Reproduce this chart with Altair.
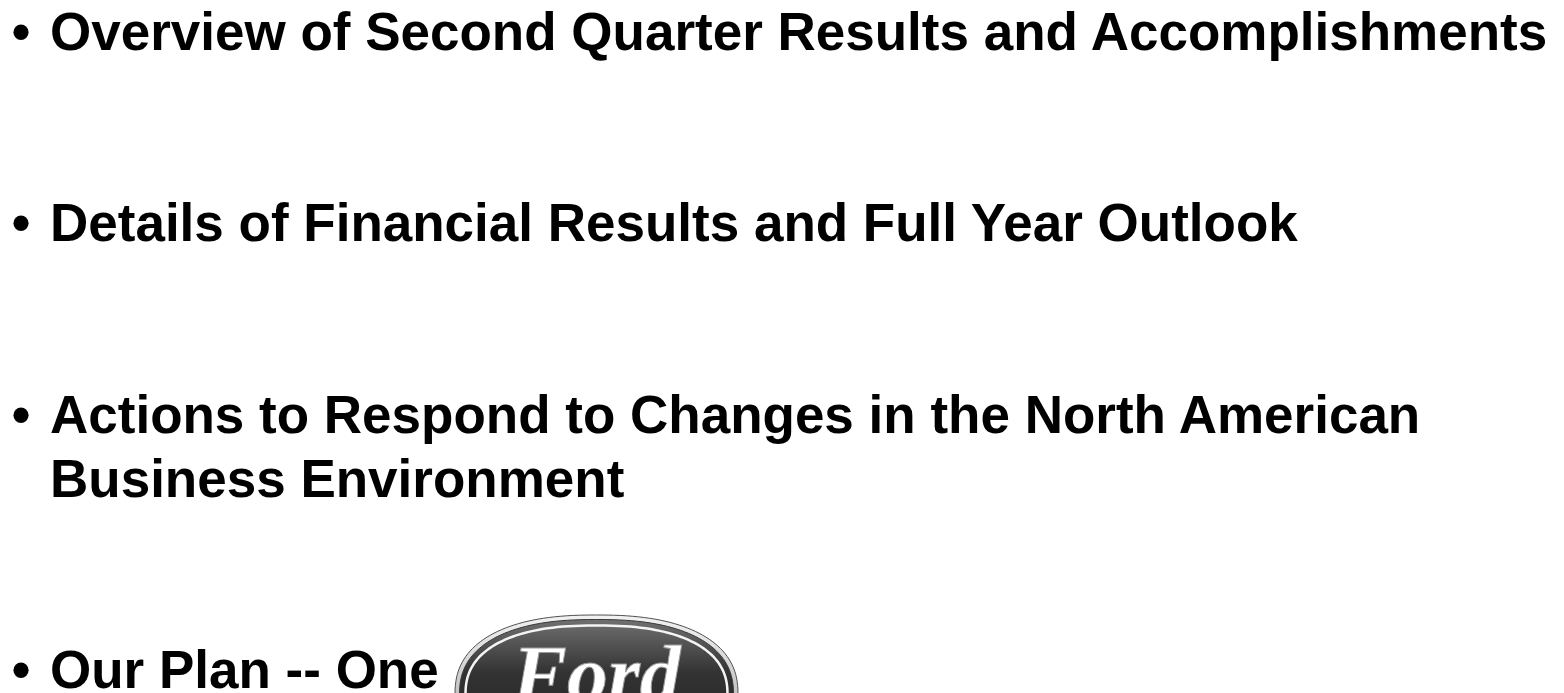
import altair as alt
import numpy as np
import pandas as pd

# ---- slide content ----
lines_text = [
    "Overview of Second Quarter Results and Accomplishments",
    "Details of Financial Results and Full Year Outlook",
    "Actions to Respond to Changes in the North American",
    "Business Environment",
    "Our Plan -- One",
]
line_numbers = [0, 3, 6, 7, 10]          # text line on the slide
has_bullet = [True, True, True, False, True]
logo_word = ["Ford"]
logo_line = [10]

W, H = 1548, 685
TEXT_X = 42
BULLET_X = 13
LOGO_X = 588.5

df = pd.DataFrame({"text": lines_text, "line": line_numbers, "bullet": has_bullet})
df["x"] = TEXT_X
bul = df[df["bullet"]].copy()
bul["b"] = "\u2022"
bul["x"] = BULLET_X
logo = pd.DataFrame({"word": logo_word, "line": logo_line, "x": [LOGO_X]})

xs = alt.Scale(domain=[0, W], range=[0, W])
ys = alt.Scale(domain=[0, 10], range=[42, 680])
X = alt.X("x:Q", scale=xs, axis=None)
Y = alt.Y("line:Q", scale=ys, axis=None)


def superellipse(aspect, n=2.4, k=160):
    t = np.linspace(0, 2 * np.pi, k, endpoint=False)
    c, s = np.cos(t), np.sin(t)
    px = np.sign(c) * np.abs(c) ** (2.0 / n)
    py = aspect * np.sign(s) * np.abs(s) ** (2.0 / n)
    pts = " ".join(f"L {a:.4f} {b:.4f}" for a, b in zip(px, py))
    return "M" + pts[1:] + " Z"


def oval(rx, ry, **kw):
    return alt.Chart(logo).mark_point(
        shape=superellipse(ry / rx), size=(2 * rx) ** 2, opacity=1, yOffset=7, **kw
    ).encode(x=X, y=Y)


silver = alt.LinearGradient(
    gradient="linear", x1=0, x2=0, y1=0, y2=1,
    stops=[alt.GradientStop(color="#f2f2f2", offset=0),
           alt.GradientStop(color="#c4c4c4", offset=0.5),
           alt.GradientStop(color="#909090", offset=1)],
)
dark = alt.LinearGradient(
    gradient="linear", x1=0, x2=0, y1=0, y2=1,
    stops=[alt.GradientStop(color="#707070", offset=0),
           alt.GradientStop(color="#333333", offset=0.35),
           alt.GradientStop(color="#1c1c1c", offset=1)],
)

rim = oval(141.5, 80, filled=True, fill=silver, stroke="#505050", strokeWidth=1)
inner = oval(137, 75.5, filled=True, fill=dark, stroke="#3a3a3a", strokeWidth=1)
ring = oval(131, 69.5, filled=False, stroke="#f4f4f4", strokeWidth=2.5)

ford = alt.Chart(logo).mark_text(
    font="Liberation Serif", fontStyle="italic", fontWeight="bold", fontSize=82,
    align="center", baseline="alphabetic", color="white", stroke="#9a9a9a",
    strokeWidth=1, yOffset=14,
).encode(x=X, y=Y, text="word:N")

body = alt.Chart(df).mark_text(
    font="Liberation Sans", fontWeight="bold", fontSize=53, align="left",
    baseline="alphabetic", color="black",
).encode(x=X, y=Y, text="text:N")

bullets = alt.Chart(bul).mark_text(
    font="Liberation Sans", fontWeight="bold", fontSize=53, align="center",
    baseline="alphabetic", color="black",
).encode(x=X, y=Y, text="b:N")

chart = alt.layer(body, bullets, rim, inner, ring, ford).properties(
    width=W, height=H, padding=0, autosize=alt.AutoSizeParams(type="none"),
    background="white",
).configure_view(stroke=None)

chart.save("out.html", embed_options={"renderer": "svg", "actions": False})
